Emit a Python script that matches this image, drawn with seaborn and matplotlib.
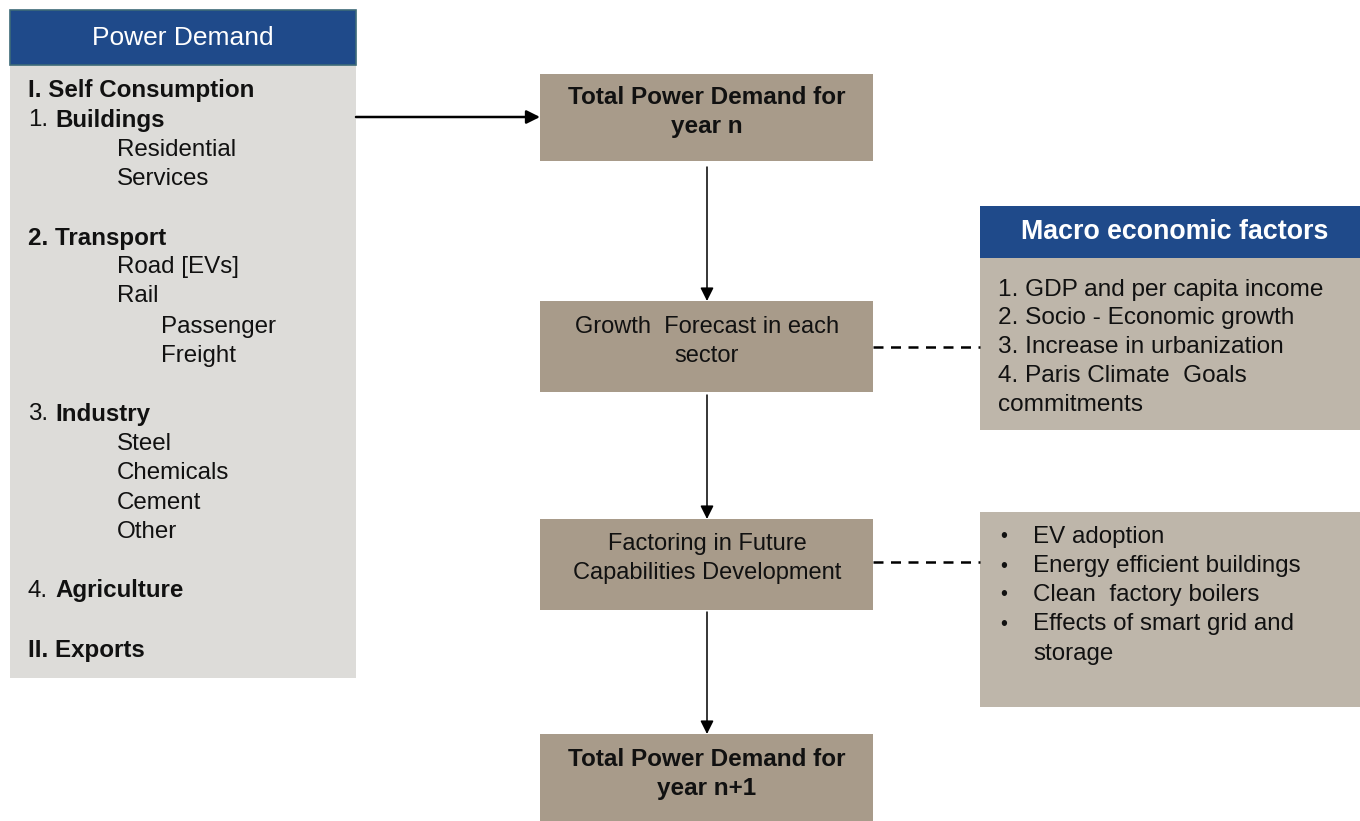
import matplotlib
matplotlib.use("Agg")
import matplotlib.pyplot as plt
from matplotlib.patches import Rectangle
import seaborn as sns

sns.set_theme(style="white")
plt.rcParams['font.family'] = ['Liberation Sans', 'DejaVu Sans']

# ---- content ----
left_title = "Power Demand"
# (prefix, label, bold_label, indent_level)
left_lines = [
    ("", "I. Self Consumption", True, 0),
    ("1.", "Buildings", True, 0),
    ("", "Residential", False, 1),
    ("", "Services", False, 1),
    ("", "2. Transport", True, 0),
    ("", "Road [EVs]", False, 1),
    ("", "Rail", False, 1),
    ("", "Passenger", False, 2),
    ("", "Freight", False, 2),
    ("3.", "Industry", True, 0),
    ("", "Steel", False, 1),
    ("", "Chemicals", False, 1),
    ("", "Cement", False, 1),
    ("", "Other", False, 1),
    ("4.", "Agriculture", True, 0),
    ("", "II. Exports", True, 0),
]
left_line_y = [91, 120, 150, 179, 239, 267, 296, 327, 356, 414, 444, 473, 503, 532, 591, 650]

flow_steps = [
    (["Total Power Demand for", "year n"], True),
    (["Growth  Forecast in each", "sector"], False),
    (["Factoring in Future", "Capabilities Development"], False),
    (["Total Power Demand for", "year n+1"], True),
]
flow_line_y = [(98, 127), (327, 356), (544, 573), (759, 789)]
flow_top = [74, 301, 519, 734]
flow_bottom = [161, 392, 610, 821]

macro_title = "Macro economic factors"
macro_lines = ["1. GDP and per capita income", "2. Socio - Economic growth",
               "3. Increase in urbanization", "4. Paris Climate  Goals", "commitments"]
macro_line_y = [290, 318, 347, 376, 405]

capability_items = ["EV adoption", "Energy efficient buildings", "Clean  factory boilers",
                    "Effects of smart grid and", "storage"]
capability_bullet = [True, True, True, True, False]
capability_line_y = [537, 566, 595, 624, 654]

# ---- colours ----
navy = "#1f4a8a"
taupe = "#a89b8a"
light_taupe = "#beb6aa"
light_grey = "#dddcd9"
ink = "#111111"
fs = 17.4

fig = plt.figure(figsize=(13.6, 8.21), dpi=100)
ax = fig.add_axes([0, 0, 1, 1])
ax.set_xlim(0, 1360)
ax.set_ylim(821, 0)
ax.axis('off')


def box(x0, y0, x1, y1, color, **kw):
    ax.add_patch(Rectangle((x0, y0), x1 - x0, y1 - y0, facecolor=color, **kw))


# left panel
box(10, 65, 356, 678, light_grey, edgecolor='none')
box(10, 10, 356, 65, navy, edgecolor='#3d6a78', linewidth=1.2)
ax.text(183, 38, left_title, color='white', fontsize=19, ha='center', va='center')
indent_x = [28, 117, 161]
for (prefix, label, bold, lvl), y in zip(left_lines, left_line_y):
    x = indent_x[lvl]
    if prefix:
        ax.text(x, y, prefix, color=ink, fontsize=fs, ha='left', va='center')
        x = 55
    ax.text(x, y, label, color=ink, fontsize=fs, ha='left', va='center',
            fontweight='bold' if bold else 'normal')

# flow boxes
cx = 707
for (lines, bold), ys, top, bot in zip(flow_steps, flow_line_y, flow_top, flow_bottom):
    box(540, top, 873, bot, taupe, edgecolor='none')
    for txt, y in zip(lines, ys):
        ax.text(cx, y, txt, color=ink, fontsize=17.5 if bold else 17.0,
                ha='center', va='center', fontweight='bold' if bold else 'normal')

arrow = dict(arrowstyle='-|>', color='black', shrinkA=0, shrinkB=0, mutation_scale=20)
ax.annotate('', xy=(540, 117), xytext=(356, 117), arrowprops=dict(arrow, lw=1.8))
for y0, y1 in [(167, 301), (395, 519), (612, 734)]:
    ax.annotate('', xy=(cx, y1), xytext=(cx, y0), arrowprops=dict(arrow, lw=1.1))

# dashed connectors
for y in [347, 562]:
    ax.plot([873, 980], [y, y], color='black', lw=1.8, linestyle=(0, (4, 3)))

# macro factors panel
box(980, 258, 1360, 430, light_taupe, edgecolor='none')
box(980, 206, 1360, 258, navy, edgecolor='none')
ax.text(1175, 232, macro_title, color='white', fontsize=19.3, fontweight='bold',
        ha='center', va='center')
for txt, y in zip(macro_lines, macro_line_y):
    ax.text(998, y, txt, color=ink, fontsize=fs + 0.2, ha='left', va='center')

# capability panel
box(980, 512, 1360, 707, light_taupe, edgecolor='none')
for txt, bul, y in zip(capability_items, capability_bullet, capability_line_y):
    if bul:
        ax.text(1000, y, "\u2022", color=ink, fontsize=fs - 3, ha='left', va='center')
    ax.text(1033, y, txt, color=ink, fontsize=fs, ha='left', va='center')

fig.savefig("out.png", dpi=100, facecolor='white')
